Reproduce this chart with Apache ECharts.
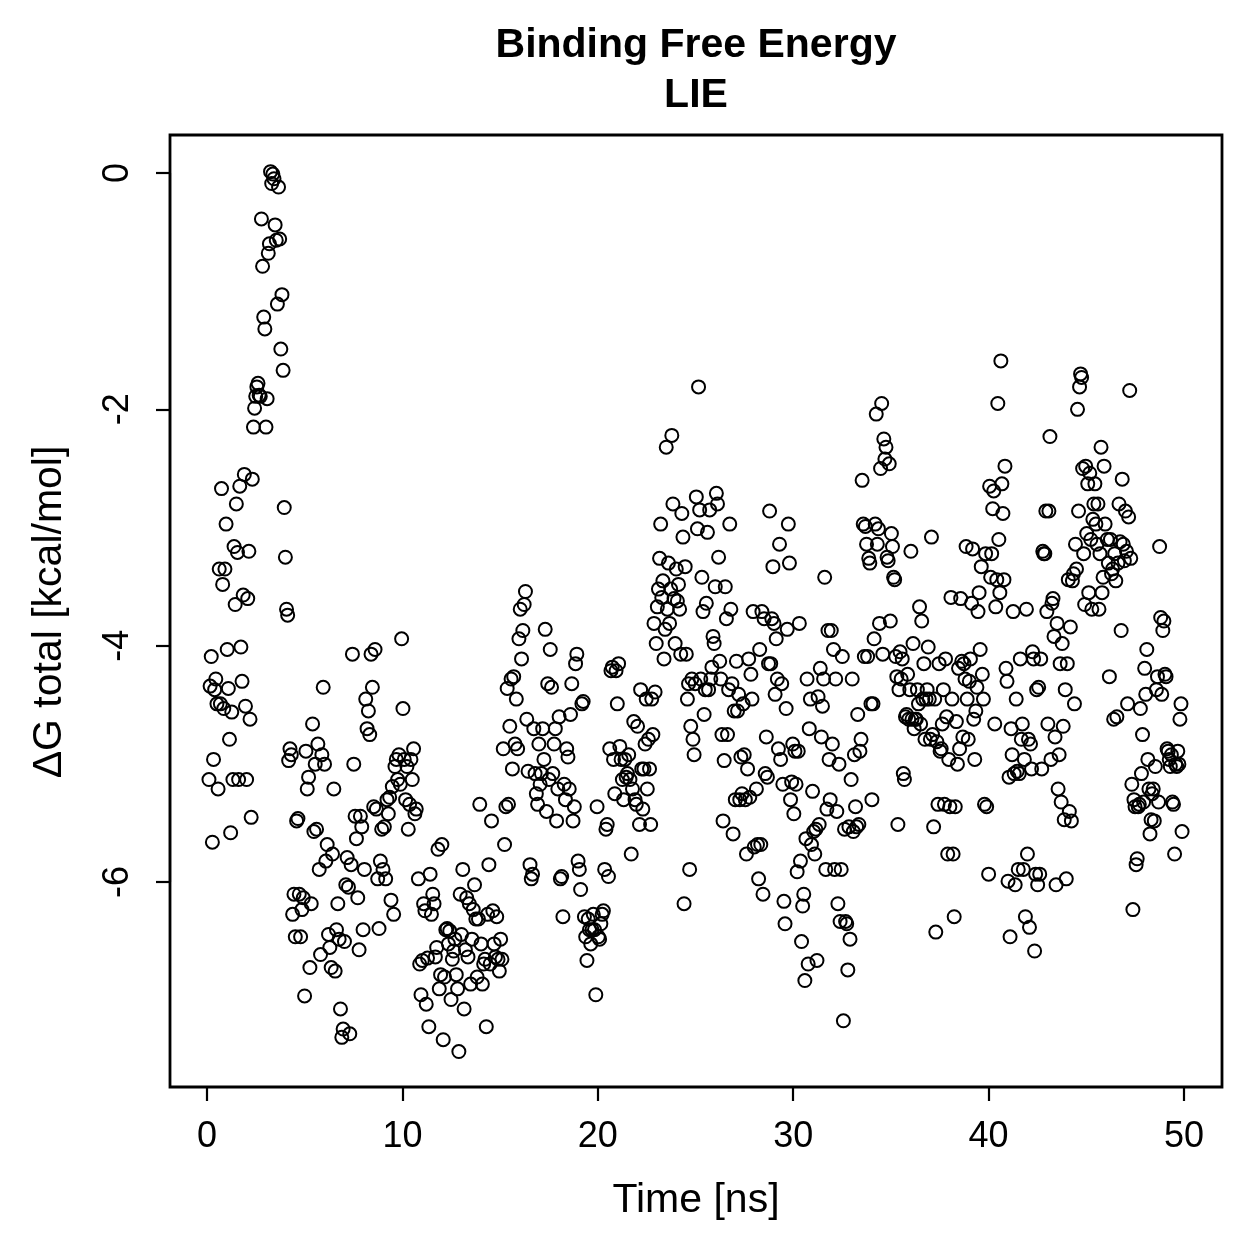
<!DOCTYPE html>
<html>
<head>
<meta charset="utf-8">
<title>Binding Free Energy - LIE</title>
<script src="https://cdn.jsdelivr.net/npm/echarts@6/dist/echarts.min.js"></script>
<style>
  html, body { margin: 0; padding: 0; background: #fff; }
  #chart { width: 1259px; height: 1259px; }
</style>
</head>
<body>
<div id="chart"></div>
<script>
// time windows (ns) covered by each block of frames
var segStart = [0, 4.09, 10.75, 16.48, 22.1, 28.1, 34.03, 40.02, 46.11];
var segEnd   = [4.04, 10.64, 16.38, 22.0, 27.99, 33.98, 39.92, 46.0, 49.95];

// dG total (kcal/mol), frames in time order
var dg1 = [-5.14,-4.35,-4.1,-5.67,-4.97,-4.38,-4.29,-4.5,-5.22,-3.36,
  -4.5,-2.68,-3.49,-4.54,-3.36,-2.98,-4.04,-4.37,-4.8,-5.59,
  -4.57,-5.14,-3.17,-3.66,-2.81,-3.22,-5.14,-2.66,-4.02,-4.31,
  -3.58,-2.56,-4.52,-5.14,-3.61,-3.21,-4.63,-5.46,-2.6,-2.16,
  -2.0,-1.9,-1.82,-1.79,-1.89,-1.9,-0.4,-0.8,-1.23,-1.33,
  -2.16,-1.92,-0.69,-0.61,0.0,-0.1,-0.02,-0.06,-0.45,-0.58,
  -1.12,-0.13,-0.57,-1.5,-1.04,-1.68,-2.84,-3.26,-3.7,-3.75];
var dg2 = [-4.98,-4.88,-4.93,-6.28,-6.11,-6.47,-5.49,-5.47,-6.11,-6.47,
  -6.24,-6.14,-6.97,-4.9,-5.22,-5.12,-6.73,-6.19,-4.67,-5.58,
  -5.01,-5.56,-4.84,-5.9,-6.62,-4.93,-4.36,-5.01,-5.83,-5.69,
  -6.45,-6.56,-6.73,-5.77,-5.22,-6.76,-6.41,-6.19,-6.49,-7.08,
  -7.32,-7.25,-6.51,-6.03,-5.8,-6.05,-7.29,-5.86,-4.08,-5.01,
  -5.45,-5.64,-6.14,-6.58,-5.45,-5.54,-6.41,-5.9,-4.46,-4.71,
  -4.56,-4.76,-4.08,-4.36,-5.37,-4.04,-5.39,-5.98,-6.4,-5.83,
  -5.56,-5.9,-5.54,-5.98,-5.31,-5.43,-5.29,-6.16,-5.2,-6.28,
  -5.03,-4.97,-5.14,-4.93,-5.18,-3.95,-4.54,-4.97,-5.31,-5.03,
  -5.56,-5.35,-4.97,-5.14,-4.88,-5.43,-5.39];
var dg3 = [-5.98,-6.7,-6.96,-6.67,-6.19,-6.25,-7.04,-6.65,-7.23,-5.94,
  -6.28,-6.11,-6.19,-6.64,-6.56,-5.73,-6.91,-6.79,-5.69,-7.34,
  -6.81,-6.41,-6.4,-6.53,-6.42,-7.0,-6.66,-6.59,-6.49,-6.79,
  -6.91,-7.44,-6.11,-6.45,-5.9,-7.08,-6.58,-6.14,-6.64,-6.19,
  -6.87,-6.49,-6.24,-6.03,-6.32,-6.81,-6.32,-5.35,-6.53,-6.87,
  -6.7,-6.66,-7.23,-6.28,-5.86,-6.7,-5.49,-6.25,-6.53,-6.64,
  -6.3,-6.66,-6.76,-6.49,-6.66,-4.88,-5.69,-5.37,-4.37,-5.35,
  -4.69,-4.29,-5.05,-4.27,-4.84,-4.46,-4.88,-3.95,-3.7,-4.12,
  -3.88,-3.66,-3.55,-4.63,-5.07];
var dg4 = [-5.86,-5.98,-5.94,-4.71,-5.09,-5.26,-5.35,-4.84,-5.18,-5.09,
  -4.71,-4.97,-3.87,-5.41,-4.33,-5.14,-4.04,-4.36,-5.09,-4.84,
  -4.71,-5.49,-5.22,-4.61,-5.98,-5.96,-6.3,-5.18,-5.31,-4.88,
  -4.95,-5.22,-4.59,-4.33,-5.49,-5.37,-4.16,-4.08,-5.83,-5.9,
  -6.07,-4.5,-4.48,-6.3,-6.47,-6.67,-6.32,-6.41,-6.53,-6.41,
  -6.28,-6.41,-6.96,-5.37,-6.47,-6.49,-6.36,-6.28,-6.25,-5.9,
  -5.56,-5.52,-5.96,-4.88,-4.22,-4.19,-4.97,-5.26,-4.22,-4.5,
  -4.16,-4.86,-4.97,-5.14,-5.31,-4.97,-5.12,-5.09,-4.93,-5.14,
  -5.77,-5.22,-4.65,-5.31,-5.35,-4.69];
var dg5 = [-5.52,-4.38,-5.05,-5.39,-5.05,-4.84,-4.46,-5.22,-4.8,-5.05,
  -5.52,-4.46,-4.76,-3.82,-4.4,-3.99,-3.68,-3.53,-3.27,-2.98,
  -3.6,-3.46,-4.12,-3.87,-2.33,-3.7,-3.31,-3.82,-3.53,-2.23,
  -2.81,-3.61,-3.99,-3.36,-3.63,-3.49,-3.7,-4.08,-2.89,-3.09,
  -6.19,-3.34,-4.08,-4.46,-4.33,-5.9,-4.69,-4.29,-4.8,-4.93,
  -4.33,-2.75,-3.02,-1.82,-2.86,-4.29,-3.43,-3.72,-4.59,-4.38,
  -3.65,-3.05,-4.38,-2.86,-4.29,-4.19,-3.93,-3.99,-3.51,-2.72,
  -2.81,-3.26,-4.14,-4.29,-4.76,-5.49,-4.98,-3.51,-3.78,-4.76,
  -4.38,-2.98,-3.7,-4.33,-5.6,-4.56,-5.31,-4.14,-4.56,-4.42,
  -5.31,-4.95,-5.26,-4.5,-4.93,-5.31,-5.77,-5.05,-4.12,-5.29,
  -4.25,-4.46,-3.72,-5.71];
var dg6 = [-5.22,-5.69,-5.98,-4.04,-5.69,-3.72,-6.11,-3.78,-5.09,-4.78,
  -5.12,-4.16,-2.87,-4.16,-3.78,-3.34,-3.82,-4.42,-3.95,-4.29,
  -4.88,-3.15,-4.97,-4.33,-5.18,-6.17,-6.36,-4.54,-3.87,-2.98,
  -3.31,-5.31,-5.16,-4.84,-5.43,-4.9,-5.18,-5.92,-4.9,-3.82,
  -5.83,-6.51,-6.21,-6.11,-6.84,-5.64,-4.29,-6.7,-4.71,-4.46,
  -5.69,-5.24,-5.58,-5.77,-5.56,-6.67,-4.44,-5.52,-4.2,-4.78,
  -4.52,-4.29,-3.43,-5.9,-5.39,-3.88,-4.97,-5.31,-3.88,-4.84,
  -4.04,-5.9,-4.29,-5.41,-6.19,-5.01,-6.34,-5.9,-4.1,-7.18,
  -5.56,-6.34,-6.36,-6.75,-5.54,-6.49,-5.14,-4.29,-5.58,-4.93,
  -5.37,-5.54,-4.59,-5.52,-4.9,-4.8,-2.61,-2.98,-4.1,-3.0,
  -3.15,-4.1,-3.27,-3.31,-4.5];
var dg7 = [-5.31,-4.5,-3.95,-2.98,-2.05,-3.15,-3.02,-3.82,-2.51,-1.96,
  -4.08,-2.26,-2.43,-2.33,-3.26,-3.29,-2.47,-3.8,-3.06,-3.17,
  -3.43,-3.45,-4.1,-4.27,-5.52,-4.38,-4.06,-4.29,-4.12,-5.09,
  -5.14,-4.61,-4.59,-4.25,-4.63,-4.38,-3.21,-4.63,-3.99,-4.71,
  -4.63,-4.63,-4.38,-4.5,-3.68,-4.67,-3.8,-4.46,-4.16,-4.8,
  -4.46,-4.38,-4.02,-4.46,-4.8,-3.09,-4.76,-5.54,-4.46,-6.43,
  -4.82,-5.35,-4.16,-4.9,-4.88,-4.67,-4.38,-5.35,-4.12,-4.61,
  -5.77,-4.97,-5.37,-3.6,-4.46,-5.77,-6.3,-5.37,-4.65,-5.01,
  -4.2,-4.88,-3.61,-4.14,-4.78,-4.16,-4.29,-3.17,-4.46,-4.8,
  -4.31,-4.12,-3.65,-3.19,-4.63,-4.97,-4.56,-4.36,-3.72,-3.56,
  -4.04,-3.34,-4.25,-4.46,-5.35,-3.23,-5.37];
var dg8 = [-5.94,-2.66,-3.43,-3.23,-2.85,-2.7,-4.67,-3.68,-3.45,-1.96,
  -3.11,-3.56,-1.6,-2.64,-2.89,-3.45,-2.49,-4.2,-4.31,-6.0,
  -5.12,-6.47,-4.71,-4.93,-3.72,-5.09,-6.03,-4.46,-5.07,-5.9,
  -5.09,-4.12,-4.8,-4.67,-5.9,-4.97,-6.3,-3.7,-5.77,-4.8,
  -6.39,-4.84,-5.05,-4.06,-4.12,-6.59,-5.94,-4.38,-6.03,-4.36,
  -5.94,-4.12,-5.05,-3.21,-3.23,-3.23,-2.87,-3.72,-4.67,-2.87,
  -2.24,-4.97,-3.65,-3.61,-3.93,-4.78,-6.03,-3.82,-5.22,-4.93,
  -4.16,-5.33,-3.99,-4.69,-5.48,-4.38,-5.98,-4.16,-3.45,-5.41,
  -3.85,-5.49,-3.46,-3.4,-4.5,-3.15,-3.36,-2.01,-2.87,-1.82,
  -1.71,-1.74,-2.51,-3.23,-3.66,-2.49,-3.06,-2.64,-3.56,-2.55,
  -3.11,-3.7,-2.94,-2.81,-2.64,-2.98,-3.15,-2.81,-3.7,-3.23,
  -2.33,-3.56,-3.43,-2.49,-2.98];
var dg9 = [-3.11,-3.31,-4.27,-3.11,-3.4,-3.36,-4.63,-3.23,-3.46,-4.61,
  -3.31,-2.81,-3.13,-3.88,-2.6,-3.15,-3.29,-2.87,-3.21,-4.5,
  -2.92,-1.85,-3.27,-5.18,-6.24,-5.31,-5.37,-5.86,-5.81,-5.37,
  -5.35,-4.54,-5.09,-4.76,-5.33,-4.2,-4.42,-4.04,-4.97,-5.22,
  -5.6,-5.48,-5.26,-5.22,-5.49,-5.03,-4.38,-4.27,-5.33,-3.17,
  -3.77,-4.42,-3.88,-3.8,-4.25,-4.27,-4.88,-4.9,-4.97,-5.03,
  -4.93,-5.33,-5.35,-5.77,-5.01,-5.03,-4.9,-5.01,-4.63,-4.5,
  -5.58];

var segValues = [dg1, dg2, dg3, dg4, dg5, dg6, dg7, dg8, dg9];

var xTicks = [0, 10, 20, 30, 40, 50];
var yTicks = [-6, -4, -2, 0];

// frames are evenly spaced inside each window
var points = [];
segValues.forEach(function (vals, s) {
  var step = (segEnd[s] - segStart[s]) / (vals.length - 1);
  vals.forEach(function (v, i) {
    points.push([segStart[s] + i * step, v]);
  });
});

var FONT = '"Liberation Sans", Arial, Helvetica, sans-serif';
var boxMid = 170 + 1052 / 2;  // R centres titles on the plot region

var chart = echarts.init(document.getElementById('chart'), null, { renderer: 'canvas' });

var option = {
  backgroundColor: '#ffffff',
  animation: false,
  grid: [
    // plot box
    { left: 170, top: 135, width: 1052, height: 952, show: true,
      borderColor: '#000', borderWidth: 2.8, backgroundColor: 'transparent' },
    // R style x axis, only 0..50
    { left: 207, top: 135, width: 977, height: 952, show: false },
    // R style y axis, only -6..0
    { left: 170, top: 173, width: 1052, height: 709, show: false }
  ],
  xAxis: [
    { gridIndex: 0, type: 'value', min: -2, max: 52, show: false },
    { gridIndex: 1, type: 'value', min: xTicks[0], max: xTicks[xTicks.length - 1], interval: 10,
      position: 'bottom', offset: 20,
      axisLine: { show: true, lineStyle: { color: '#000', width: 2.2 } },
      axisTick: { show: true, length: 14, lineStyle: { color: '#000', width: 2.2 } },
      axisLabel: { color: '#000', fontSize: 36, fontFamily: FONT, margin: 12 },
      splitLine: { show: false } },
    { gridIndex: 2, type: 'value', show: false }
  ],
  yAxis: [
    { gridIndex: 0, type: 'value', min: -7.74, max: 0.31, show: false },
    { gridIndex: 1, type: 'value', show: false },
    { gridIndex: 2, type: 'value', min: yTicks[0], max: yTicks[yTicks.length - 1], interval: 2,
      position: 'left', offset: 20,
      axisLine: { show: true, lineStyle: { color: '#000', width: 2.2 } },
      axisTick: { show: true, length: 14, lineStyle: { color: '#000', width: 2.2 } },
      axisLabel: { color: '#000', fontSize: 36, fontFamily: FONT, rotate: 90, margin: 14,
        verticalAlign: 'bottom', align: 'center' },
      splitLine: { show: false } }
  ],
  graphic: [
    { type: 'text', x: boxMid, y: 46,
      style: { text: 'Binding Free Energy', font: 'bold 41px ' + FONT, fill: '#000', align: 'center', verticalAlign: 'middle' } },
    { type: 'text', x: boxMid, y: 96,
      style: { text: 'LIE', font: 'bold 41px ' + FONT, fill: '#000', align: 'center', verticalAlign: 'middle' } },
    { type: 'text', x: boxMid, y: 1201,
      style: { text: 'Time [ns]', font: '41px ' + FONT, fill: '#000', align: 'center', verticalAlign: 'middle' } },
    { type: 'text', x: 50, y: 612, rotation: Math.PI / 2,
      style: { text: 'ΔG total [kcal/mol]', font: '41px ' + FONT, fill: '#000', align: 'center', verticalAlign: 'middle' } }
  ],
  series: [{
    type: 'scatter',
    xAxisIndex: 0,
    yAxisIndex: 0,
    symbol: 'circle',
    symbolSize: 13,
    data: points,
    itemStyle: { color: 'rgba(0,0,0,0)', borderColor: '#000', borderWidth: 2, opacity: 1 },
    emphasis: { disabled: true },
    silent: true
  }]
};

chart.setOption(option);
</script>
</body>
</html>
